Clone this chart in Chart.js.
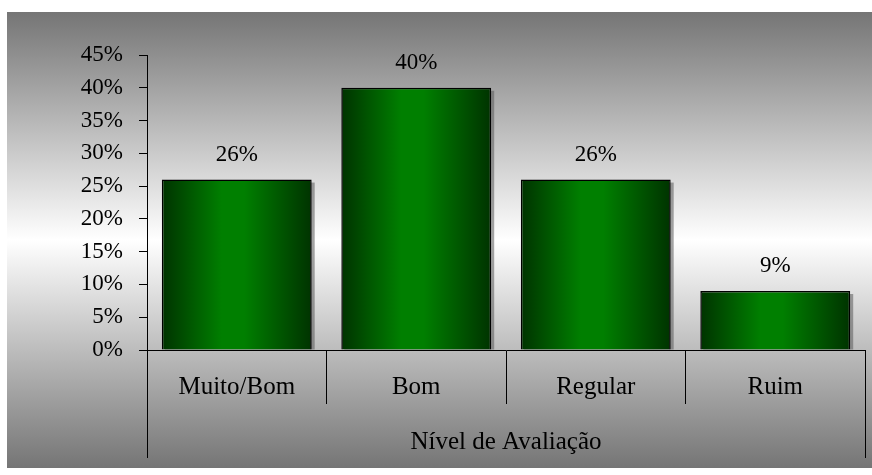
<!DOCTYPE html>
<html>
<head>
<meta charset="utf-8">
<script src="https://cdn.jsdelivr.net/npm/chart.js@4.4.1/dist/chart.umd.min.js"></script>
<style>
  html, body { margin: 0; padding: 0; background: #fff; }
  #wrap { width: 872px; height: 475px; }
</style>
</head>
<body>
<div id="wrap"><canvas id="myChart"></canvas></div>
<script>
const categories = ["Muito/Bom", "Bom", "Regular", "Ruim"]
const percentages = [26, 40, 26, 9]
const axisTitle = "Nível de Avaliação"
const yMax = 45
const yStep = 5

const serif = '"Liberation Serif", "Times New Roman", serif'
const ctx = document.getElementById('myChart')

// gray -> white -> gray backdrop behind the whole chart
const backdrop = {
  id: 'backdrop',
  beforeDraw: (chart) => {
    const c = chart.ctx
    c.save()
    c.fillStyle = "#fff"
    c.fillRect(0, 0, chart.width, chart.height)
    const grad = c.createLinearGradient(0, 12, 0, 468)
    grad.addColorStop(0, "#757575")
    grad.addColorStop(0.5, "#ffffff")
    grad.addColorStop(1, "#757575")
    c.fillStyle = grad
    c.fillRect(7, 12, chart.width - 7, 456)
    c.restore()
  }
}

// drop shadow under each bar
const barShadow = {
  id: 'barShadow',
  beforeDatasetsDraw: (chart) => {
    const c = chart.ctx
    c.save()
    c.fillStyle = "rgba(90,90,90,0.55)"
    chart.getDatasetMeta(0).data.forEach(bar => {
      const w = bar.width
      c.fillRect(bar.x - w / 2 + 3, bar.y + 3, w, bar.base - bar.y - 3)
    })
    c.restore()
  }
}

// value labels above bars + the outer lines of the category box
const extras = {
  id: 'extras',
  afterDraw: (chart) => {
    const c = chart.ctx
    const area = chart.chartArea
    const bottom = 458
    c.save()
    c.fillStyle = "#000"
    c.font = "23px " + serif
    c.textAlign = "center"
    c.textBaseline = "middle"
    chart.getDatasetMeta(0).data.forEach((bar, i) => {
      c.fillText(percentages[i] + "%", bar.x, bar.y - 25)
    })
    c.strokeStyle = "#000"
    c.lineWidth = 1
    c.beginPath()
    c.moveTo(Math.round(area.left) + 0.5, area.bottom)
    c.lineTo(Math.round(area.left) + 0.5, bottom)
    c.moveTo(Math.round(area.right) + 0.5, area.bottom)
    c.lineTo(Math.round(area.right) + 0.5, bottom)
    c.stroke()
    c.restore()
  }
}

const barGradient = (context) => {
  const chart = context.chart
  if (!chart.chartArea || !chart.scales.x) return "#006600"
  const xs = chart.scales.x
  const cx = xs.getPixelForValue(context.dataIndex)
  const half = (xs.width / categories.length) * 0.835 / 2
  const grad = chart.ctx.createLinearGradient(cx - half, 0, cx + half, 0)
  grad.addColorStop(0, "#003300")
  grad.addColorStop(0.4, "#007f00")
  grad.addColorStop(0.55, "#007f00")
  grad.addColorStop(1, "#003300")
  return grad
}

const myChart = new Chart(ctx, {
  type: 'bar',
  data: {
    labels: categories,
    datasets: [{
      label: axisTitle,
      data: percentages,
      backgroundColor: barGradient,
      borderColor: "#000",
      borderWidth: 1.5,
      barPercentage: 0.835,
      categoryPercentage: 1,
    }]
  },
  options: {
    responsive: true,
    maintainAspectRatio: false,
    animation: false,
    devicePixelRatio: 1,
    layout: { padding: { top: 55, right: 7, left: 0, bottom: 0 } },
    plugins: {
      legend: { display: false },
      tooltip: { enabled: false },
    },
    scales: {
      y: {
        min: 0,
        max: yMax,
        afterFit: (scale) => { scale.width = 147 },
        ticks: {
          stepSize: yStep,
          color: "#000",
          padding: 16,
          font: { family: serif, size: 23 },
          callback: (v) => v + "%",
        },
        grid: { drawOnChartArea: false, tickLength: 8, color: "#000" },
        border: { display: true, color: "#000", width: 1 },
      },
      x: {
        afterFit: (scale) => { scale.height = 125 },
        ticks: {
          color: "#000",
          padding: -32,
          maxRotation: 0,
          font: { family: serif, size: 25 },
        },
        grid: { offset: true, drawOnChartArea: false, tickLength: 54, color: "#000" },
        border: { display: true, color: "#000", width: 1 },
        title: {
          display: true,
          text: axisTitle,
          color: "#000",
          font: { family: serif, size: 25 },
          padding: { top: 0, bottom: 18 },
        },
      }
    }
  },
  plugins: [backdrop, barShadow, extras]
})
</script>
</body>
</html>
